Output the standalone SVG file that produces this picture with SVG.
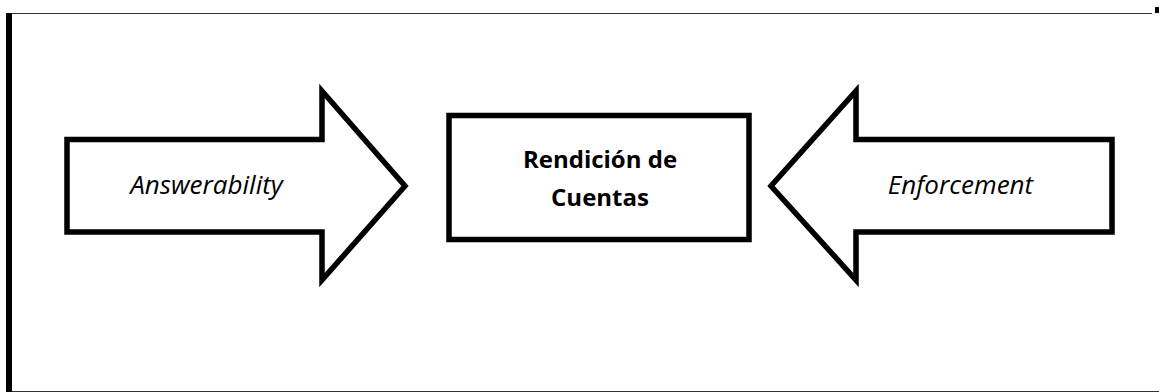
<svg xmlns="http://www.w3.org/2000/svg" width="1159" height="392" viewBox="0 0 1159 392">
<style>
.shape{fill:#fff;stroke:#000;stroke-width:5.5;stroke-linejoin:miter}
.lbl{font-family:"Open Sans","Liberation Sans",sans-serif;font-style:italic;font-size:26px;fill:#000;text-anchor:middle}
.ttl{font-family:"Open Sans","Liberation Sans",sans-serif;font-weight:bold;font-size:24px;fill:#000;text-anchor:middle}
</style>
<rect width="1159" height="392" fill="#fff"/>
<g id="frame">
<rect x="6" y="13" width="6" height="379" fill="#000"/>
<line x1="12" y1="13.5" x2="1152" y2="13.5" stroke="#333" stroke-width="1.2"/>
<line x1="12" y1="391.5" x2="1159" y2="391.5" stroke="#333" stroke-width="1.2"/>
<rect x="1155" y="7" width="4" height="6" fill="#000"/>
</g>
<g id="connectors"></g>
<g id="answerability">
<path class="shape" d="M67,139.5 H322 V91 L405,186 L322,280 V232 H67 Z"/>
<text class="lbl" x="206.5" y="193.5">Answerability</text>
</g>
<g id="rendicion">
<rect class="shape" x="449" y="115.5" width="300" height="124"/>
<text class="ttl" x="600" y="168">Rendición de</text>
<text class="ttl" x="600" y="206">Cuentas</text>
</g>
<g id="enforcement">
<path class="shape" d="M1112,139.5 H856 V91 L771,186 L856,280 V232 H1112 Z"/>
<text class="lbl" x="960.5" y="193.5">Enforcement</text>
</g>
</svg>
